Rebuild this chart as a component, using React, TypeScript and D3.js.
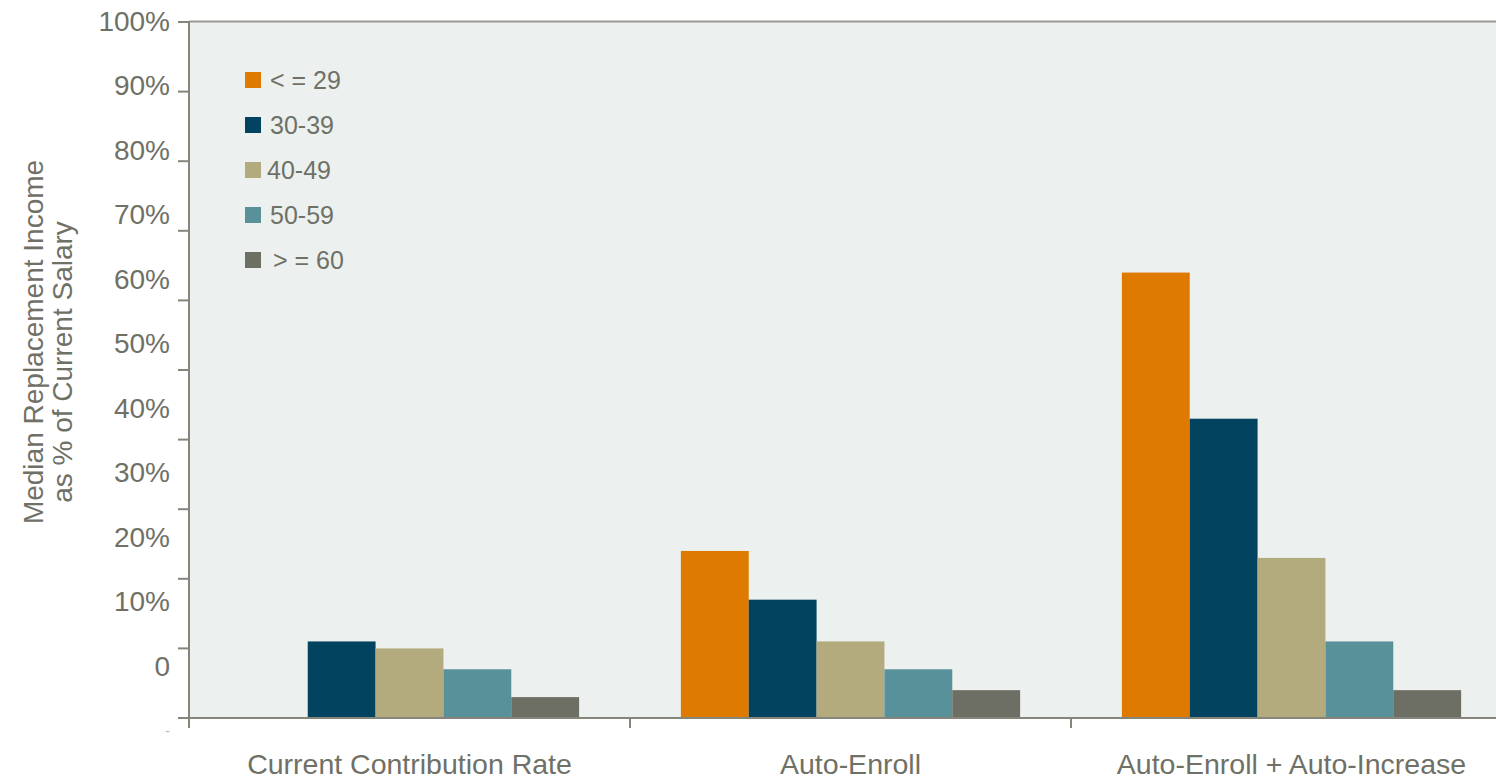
import React from "react";
import * as d3 from "d3";

// Plan groups along the x axis
const categories = ["Current Contribution Rate", "Auto-Enroll", "Auto-Enroll + Auto-Increase"];

// Age bands (series)
const seriesNames = ["< = 29", "30-39", "40-49", "50-59", "> = 60"];
const seriesColors = ["#DE7A00", "#02445F", "#B3AB7E", "#58919A", "#6D6E64"];

// Median replacement income (% of current salary) per age band, one value per category
const ageUpTo29: (number | null)[] = [null, 24, 64];
const age30to39: (number | null)[] = [11, 17, 43];
const age40to49: (number | null)[] = [10, 11, 23];
const age50to59: (number | null)[] = [7, 7, 11];
const age60plus: (number | null)[] = [3, 4, 4];

const seriesValues = [ageUpTo29, age30to39, age40to49, age50to59, age60plus];

// Tick marks every 10 %, labels listed as printed on the axis
const tickValues = [0, 10, 20, 30, 40, 50, 60, 70, 80, 90, 100];
const tickLabels = ["100%", "90%", "80%", "70%", "60%", "50%", "40%", "30%", "20%", "10%", "0", "-"];

const W = 1496;
const H = 779;
const FONT = "'Liberation Sans', Arial, Helvetica, sans-serif";
const TEXT = "#6F7066";
const AXIS = "#85857C";

export default function App() {
  const left = 189;
  const top = 22;
  const bottom = 718;

  const x = d3.scaleBand<string>().domain(categories).range([left, 1512]).paddingInner(0).paddingOuter(0);
  const xInner = d3
    .scaleBand<string>()
    .domain(seriesNames)
    .range([0, x.bandwidth()])
    .paddingInner(0)
    .paddingOuter(0.75);
  const y = d3.scaleLinear().domain([0, 100]).range([bottom, top]);
  const labelPos = d3.scalePoint<string>().domain(tickLabels.map((_, i) => String(i))).range([21, 731]);

  const legendY = d3.scalePoint<string>().domain(seriesNames).range([80, 260]);

  return (
    <svg
      width={W}
      height={H}
      style={{ position: "absolute", left: 0, top: 0, display: "block", background: "#fff" }}
      fontFamily={FONT}
    >
      {/* plot background */}
      <rect x={left} y={top} width={W - left} height={bottom - top} fill="#ECF0EF" />
      <line x1={left} x2={W} y1={top - 0.5} y2={top - 0.5} stroke="#9A9A94" strokeWidth={2} />

      {/* bars */}
      {seriesValues.map((vals, si) =>
        vals.map((v, ci) =>
          v == null ? null : (
            <rect
              key={`${si}-${ci}`}
              x={(x(categories[ci]) as number) + (xInner(seriesNames[si]) as number)}
              y={y(v)}
              width={xInner.bandwidth()}
              height={y(0) - y(v)}
              fill={seriesColors[si]}
            />
          )
        )
      )}

      {/* y axis */}
      <line x1={left} x2={left} y1={top - 1} y2={bottom + 10} stroke={AXIS} strokeWidth={2} />
      {tickValues.map((t) => (
        <line key={t} x1={178} x2={left} y1={y(t)} y2={y(t)} stroke={AXIS} strokeWidth={2} />
      ))}
      {tickLabels.map((lab, i) => (
        <text
          key={lab + i}
          x={170}
          y={labelPos(String(i)) as number}
          textAnchor="end"
          dominantBaseline="central"
          fontSize={lab === "-" ? 14 : 28}
          fill={lab === "-" ? "#B8B8B2" : TEXT}
        >
          {lab}
        </text>
      ))}

      {/* x axis */}
      <line x1={180} x2={W} y1={bottom} y2={bottom} stroke={AXIS} strokeWidth={2} />
      {categories.map((c) => (
        <line
          key={c}
          x1={x(c) as number}
          x2={x(c) as number}
          y1={bottom}
          y2={bottom + 10}
          stroke={AXIS}
          strokeWidth={2}
        />
      ))}
      {categories.map((c) => (
        <text
          key={c}
          x={(x(c) as number) + x.bandwidth() / 2}
          y={774}
          textAnchor="middle"
          fontSize={28.5}
          fill={TEXT}
        >
          {c}
        </text>
      ))}

      {/* y axis title */}
      <text
        transform={`translate(33,342) rotate(-90)`}
        textAnchor="middle"
        dominantBaseline="central"
        fontSize={28}
        fill={TEXT}
      >
        Median Replacement Income
      </text>
      <text
        transform={`translate(62,362) rotate(-90)`}
        textAnchor="middle"
        dominantBaseline="central"
        fontSize={28}
        fill={TEXT}
      >
        as % of Current Salary
      </text>

      {/* legend */}
      {seriesNames.map((s, i) => (
        <g key={s} transform={`translate(245,${legendY(s)})`}>
          <rect x={0} y={-8} width={16} height={16} fill={seriesColors[i]} />
          <text
            x={s === "40-49" ? 22 : s.startsWith(">") ? 28 : 25}
            y={0}
            dominantBaseline="central"
            fontSize={25}
            fill={TEXT}
          >
            {s}
          </text>
        </g>
      ))}
    </svg>
  );
}
